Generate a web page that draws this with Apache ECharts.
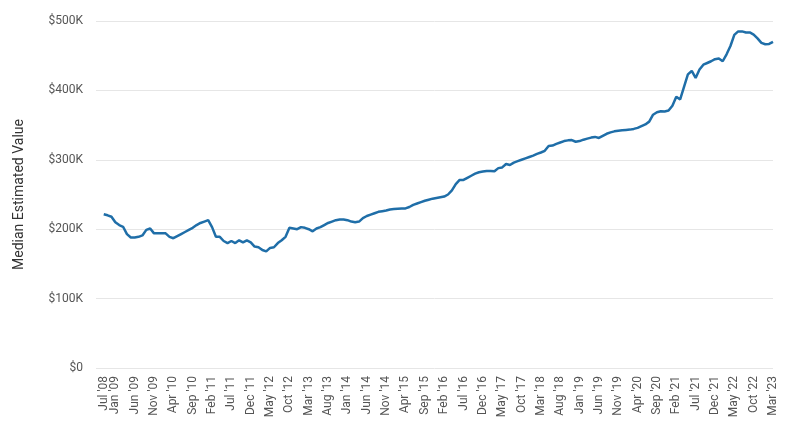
<!DOCTYPE html>
<html>
<head>
<meta charset="utf-8">
<script src="https://cdn.jsdelivr.net/npm/echarts@6/dist/echarts.min.js"></script>
<style>
html,body{margin:0;padding:0;background:#fff;}
#chart{width:794px;height:430px;}
</style>
</head>
<body>
<div id="chart"></div>
<script>
// Point categories: Jul '08, Sep '08, Nov '08, then monthly Jan '09 .. Mar '23
const monthNames = ["Jan","Feb","Mar","Apr","May","Jun","Jul","Aug","Sep","Oct","Nov","Dec"];
const months = ["Jul '08", "Sep '08", "Nov '08"];
for (let y = 9; y <= 23; y++) {
  for (let mo = 0; mo < 12; mo++) {
    if (y === 23 && mo > 2) break;
    months.push(monthNames[mo] + " '" + String(y).padStart(2, "0"));
  }
}

// Median estimated value, $K
const medianValue = [
  221.5, 220, 218,
  210, 206, 203.5, 193, 188, 188, 189, 191, 199, 201, 194, 194,
  194, 194, 189, 187, 190, 193, 196, 199, 202, 206, 209, 211,
  213, 203, 189, 189, 183, 180, 183, 180, 184, 181, 184, 181,
  175, 174, 170, 168, 173, 174, 180, 184, 189, 202, 201, 200,
  203, 202, 200, 197, 201, 203, 206, 209, 211, 213, 214, 214,
  213, 211, 210, 211, 216, 219, 221, 223, 225, 226, 227, 228.5,
  229, 229.5, 230, 230, 232, 235, 237, 239, 241, 242.5, 244, 245,
  246, 247, 250, 256, 265, 271, 271, 274, 277, 280, 282, 283,
  284, 284, 283.5, 288, 289, 294, 292.5, 296, 298, 300, 302, 304,
  306, 308.5, 310.5, 313, 320, 320.5, 323, 325, 327, 328, 328.5, 326,
  327, 329, 330.5, 332, 333, 331.5, 334.5, 337.5, 339.5, 341, 342, 342.5,
  343, 343.5, 344.5, 346, 348.5, 351, 355, 365, 368.5, 370, 369.5, 371,
  378, 391, 387, 405, 423, 428, 418, 430, 437, 439.5, 442, 445,
  446, 442, 452, 464, 480, 485, 485, 483.5, 483.5, 480.5, 475, 468.5,
  466.5, 467, 470
];

// Tick labels shown on the x axis
const tickLabels = ["Jul '08","Jan '09","Jun '09","Nov '09","Apr '10","Sep '10","Feb '11","Jul '11",
  "Dec '11","May '12","Oct '12","Mar '13","Aug '13","Jan '14","Jun '14","Nov '14","Apr '15",
  "Sep '15","Feb '16","Jul '16","Dec '16","May '17","Oct '17","Mar '18","Aug '18","Jan '19",
  "Jun '19","Nov '19","Apr '20","Sep '20","Feb '21","Jul '21","Dec '21","May '22","Oct '22","Mar '23"];

const tickIdx = tickLabels.map(l => months.indexOf(l));
const seriesData = medianValue.map((v, i) => [i, v]);

function xAxisWith(values) {
  return {
    type: 'value',
    position: 'bottom',
    offset: 0,
    min: -2,
    max: medianValue.length - 1,
    axisLine: {show: false},
    axisTick: {show: false},
    splitLine: {show: false},
    axisLabel: {
      customValues: values,
      showMinLabel: true,
      showMaxLabel: true,
      rotate: 90,
      margin: 8,
      color: '#555',
      fontSize: 12,
      fontFamily: 'Roboto, sans-serif',
      formatter: v => months[Math.round(v)]
    }
  };
}

const chart = echarts.init(document.getElementById('chart'), null, {renderer: 'canvas'});
chart.setOption({
  animation: false,
  textStyle: {fontFamily: 'Roboto, sans-serif'},
  grid: {left: 96, right: 21, top: 21, bottom: 62, containLabel: false},
  xAxis: [xAxisWith(tickIdx.slice(1)), xAxisWith(tickIdx.slice(0, 1))],
  yAxis: {
    type: 'value',
    min: 0,
    max: 500,
    interval: 100,
    name: 'Median Estimated Value',
    nameLocation: 'middle',
    nameGap: 70,
    nameTextStyle: {color: '#333', fontSize: 14, fontFamily: 'Roboto, sans-serif'},
    axisLine: {show: false},
    axisTick: {show: false},
    splitLine: {lineStyle: {color: '#e6e6e6', width: 1}},
    axisLabel: {
      color: '#555',
      fontSize: 12,
      margin: 13,
      fontFamily: 'Roboto, sans-serif',
      formatter: v => v === 0 ? '$0' : '$' + v + 'K'
    }
  },
  series: [{
    type: 'line',
    xAxisIndex: 0,
    data: seriesData,
    showSymbol: false,
    lineStyle: {color: '#1f6ea8', width: 2.5},
    itemStyle: {color: '#1f6ea8'}
  }]
});
</script>
</body>
</html>
